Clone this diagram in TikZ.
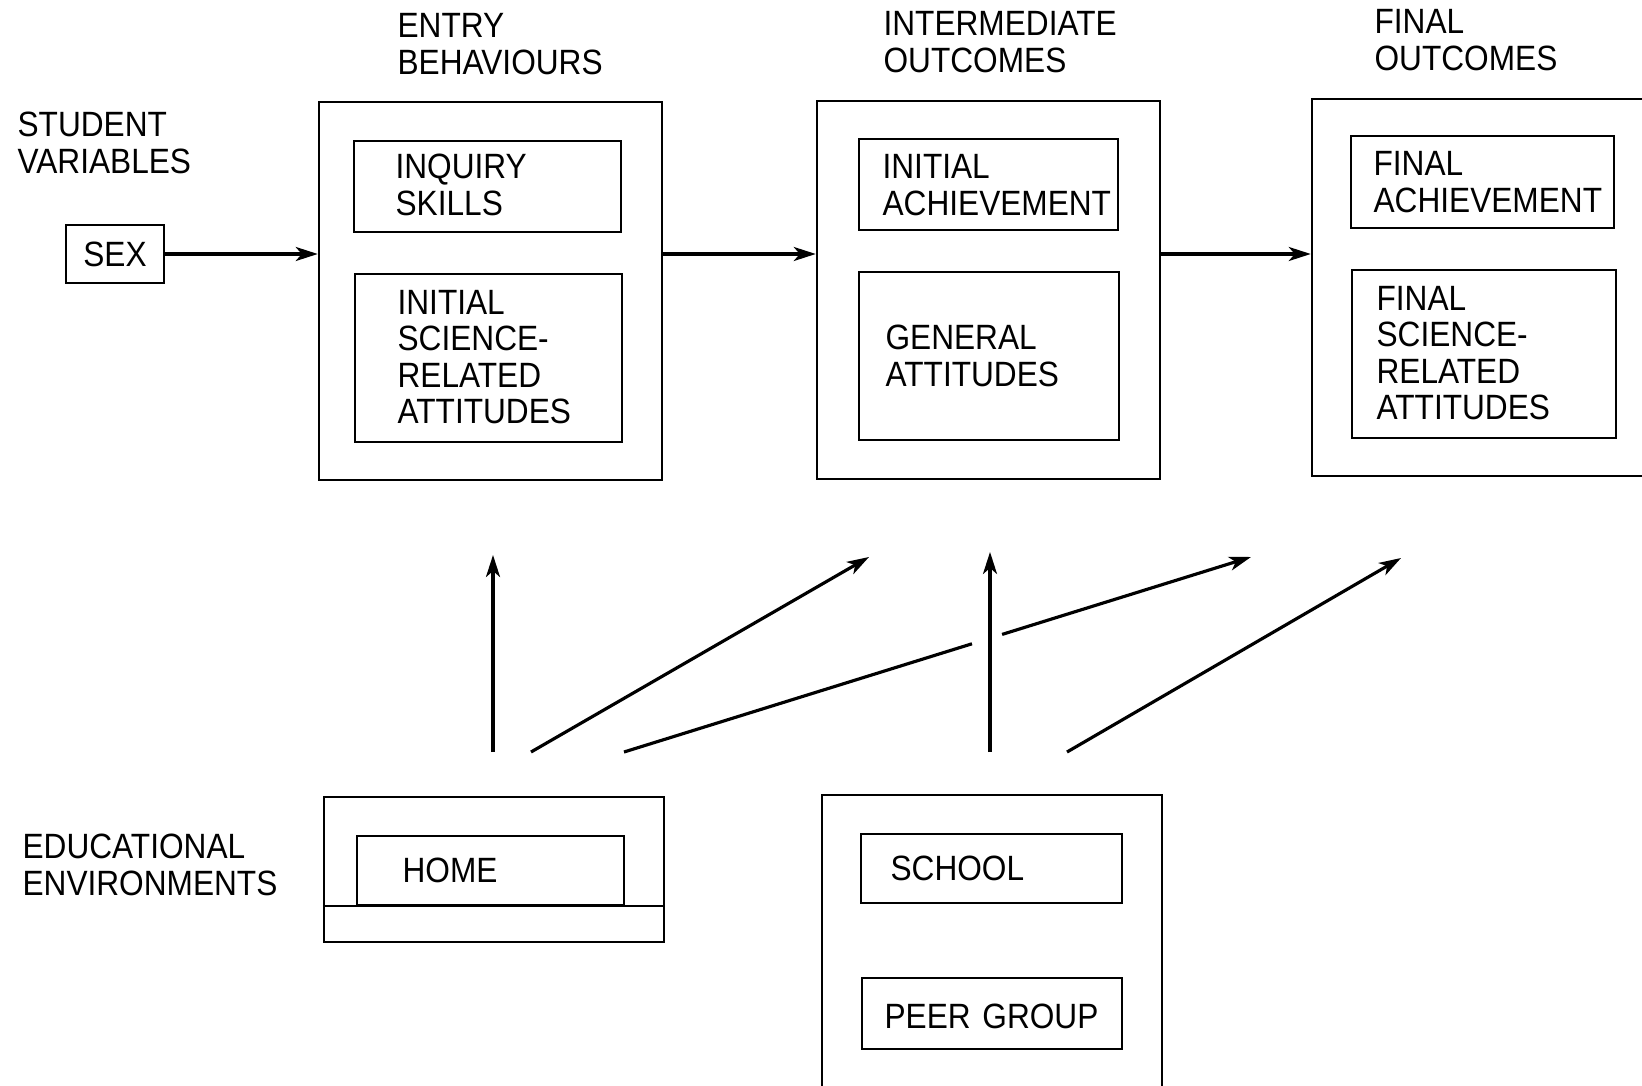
\documentclass[tikz,border=0pt]{standalone}
\usepackage{fontspec}
\setmainfont{Liberation Sans}[FakeStretch=0.9]
\usetikzlibrary{arrows.meta, calc}

\tikzset{
  box/.style={draw, line width=0.7pt, inner sep=0pt},
  lbl/.style={anchor=west, inner sep=0pt, align=left, font=\fontsize{10}{10.4}\selectfont},
}

\begin{document}
\begin{tikzpicture}[x=0.1mm, y=-0.1mm, >={Stealth[length=2.2mm,width=1.4mm,inset=0.6mm]}, line width=0.9pt]
\path[use as bounding box] (0,0) rectangle (1642,1085);
\clip (0,0) rectangle (1642,1085);
% headings
\node[lbl] (student) at (16,143) {STUDENT\\VARIABLES};
\node[lbl] (entry) at (396,44) {ENTRY\\BEHAVIOURS};
\node[lbl] (inter) at (882,42) {INTERMEDIATE\\OUTCOMES};
\node[lbl] (final) at (1373,40) {FINAL\\OUTCOMES};
\node[lbl] (eduenv) at (21,865) {EDUCATIONAL\\ENVIRONMENTS};
% sex
\node[box, minimum width=9.8mm, minimum height=5.8mm, font=\fontsize{10}{10.4}\selectfont] (sexbox) at (115,254) {SEX};
% entry behaviours
\node[box, minimum width=34.3mm, minimum height=37.8mm] (entrybox) at (490.5,291) {};
\node[box, minimum width=26.7mm, minimum height=9.1mm] (inqbox) at (487.5,186.5) {};
\node[box, minimum width=26.7mm, minimum height=16.8mm] (iscibox) at (488.5,358) {};
\node[lbl] (inq) at (394,185) {INQUIRY\\SKILLS};
\node[lbl] (isci) at (396,357) {INITIAL\\SCIENCE-\\RELATED\\ATTITUDES};
% intermediate outcomes
\node[box, minimum width=34.3mm, minimum height=37.8mm] (interbox) at (988.5,290) {};
\node[box, minimum width=25.9mm, minimum height=9.1mm] (iachbox) at (988.5,184.5) {};
\node[box, minimum width=26mm, minimum height=16.8mm] (gattbox) at (989,356) {};
\node[lbl] (iach) at (881,185) {INITIAL\\ACHIEVEMENT};
\node[lbl] (gatt) at (884,356) {GENERAL\\ATTITUDES};
% final outcomes
\node[box, minimum width=38.8mm, minimum height=37.7mm] (finalbox) at (1506,287.5) {};
\node[box, minimum width=26.3mm, minimum height=9.2mm] (fachbox) at (1482.5,182) {};
\node[box, minimum width=26.4mm, minimum height=16.8mm] (fscibox) at (1484,354) {};
\node[lbl] (fach) at (1372,182) {FINAL\\ACHIEVEMENT};
\node[lbl] (fsci) at (1375,353) {FINAL\\SCIENCE-\\RELATED\\ATTITUDES};
% environments
\node[box, minimum width=34mm, minimum height=14.5mm] (homebox) at (494,869.5) {};
\node[box, minimum width=26.7mm, minimum height=6.9mm] (homein) at (490.5,870.5) {};
\draw[line width=0.7pt] (homebox.west |- homein.south) -- (homebox.east |- homein.south);
\node[lbl] (home) at (401,870) {HOME};
\node[box, minimum width=34mm, minimum height=33.5mm] (schoolbox) at (992,962.5) {};
\node[box, minimum width=26.1mm, minimum height=6.9mm] (schoolin) at (991.5,868.5) {};
\node[box, minimum width=26mm, minimum height=7.1mm] (peerin) at (992,1013.5) {};
\node[lbl] (school) at (889,868) {SCHOOL};
\node[lbl] (peer) at (883,1016) {PEER\,\,GROUP};
% arrows along the top row
\draw[->] (sexbox.east) -- (sexbox.east -| entrybox.west);
\draw[->] (entrybox.east |- sexbox.east) -- (interbox.west |- sexbox.east);
\draw[->] (interbox.east |- sexbox.east) -- (finalbox.west |- sexbox.east);
% arrows from the environments
\coordinate (h1) at (493,752);  \coordinate (t1) at (493,555);
\coordinate (h2) at (531,752);  \coordinate (t2) at (869,557);
\coordinate (h3) at (624,752);  \coordinate (t3) at (1251,557);
\coordinate (h4) at (990,752);  \coordinate (t4) at (990,552);
\coordinate (h5) at (1067,752); \coordinate (t5) at (1401,558);
\draw[->] (h1) -- (t1);
\draw[->] (h2) -- (t2);
\draw (h3) -- ($(h3)!0.555!(t3)$);
\draw[->] ($(h3)!0.603!(t3)$) -- (t3);
\draw[->] (h4) -- (t4);
\draw[->] (h5) -- (t5);
\end{tikzpicture}
\end{document}
